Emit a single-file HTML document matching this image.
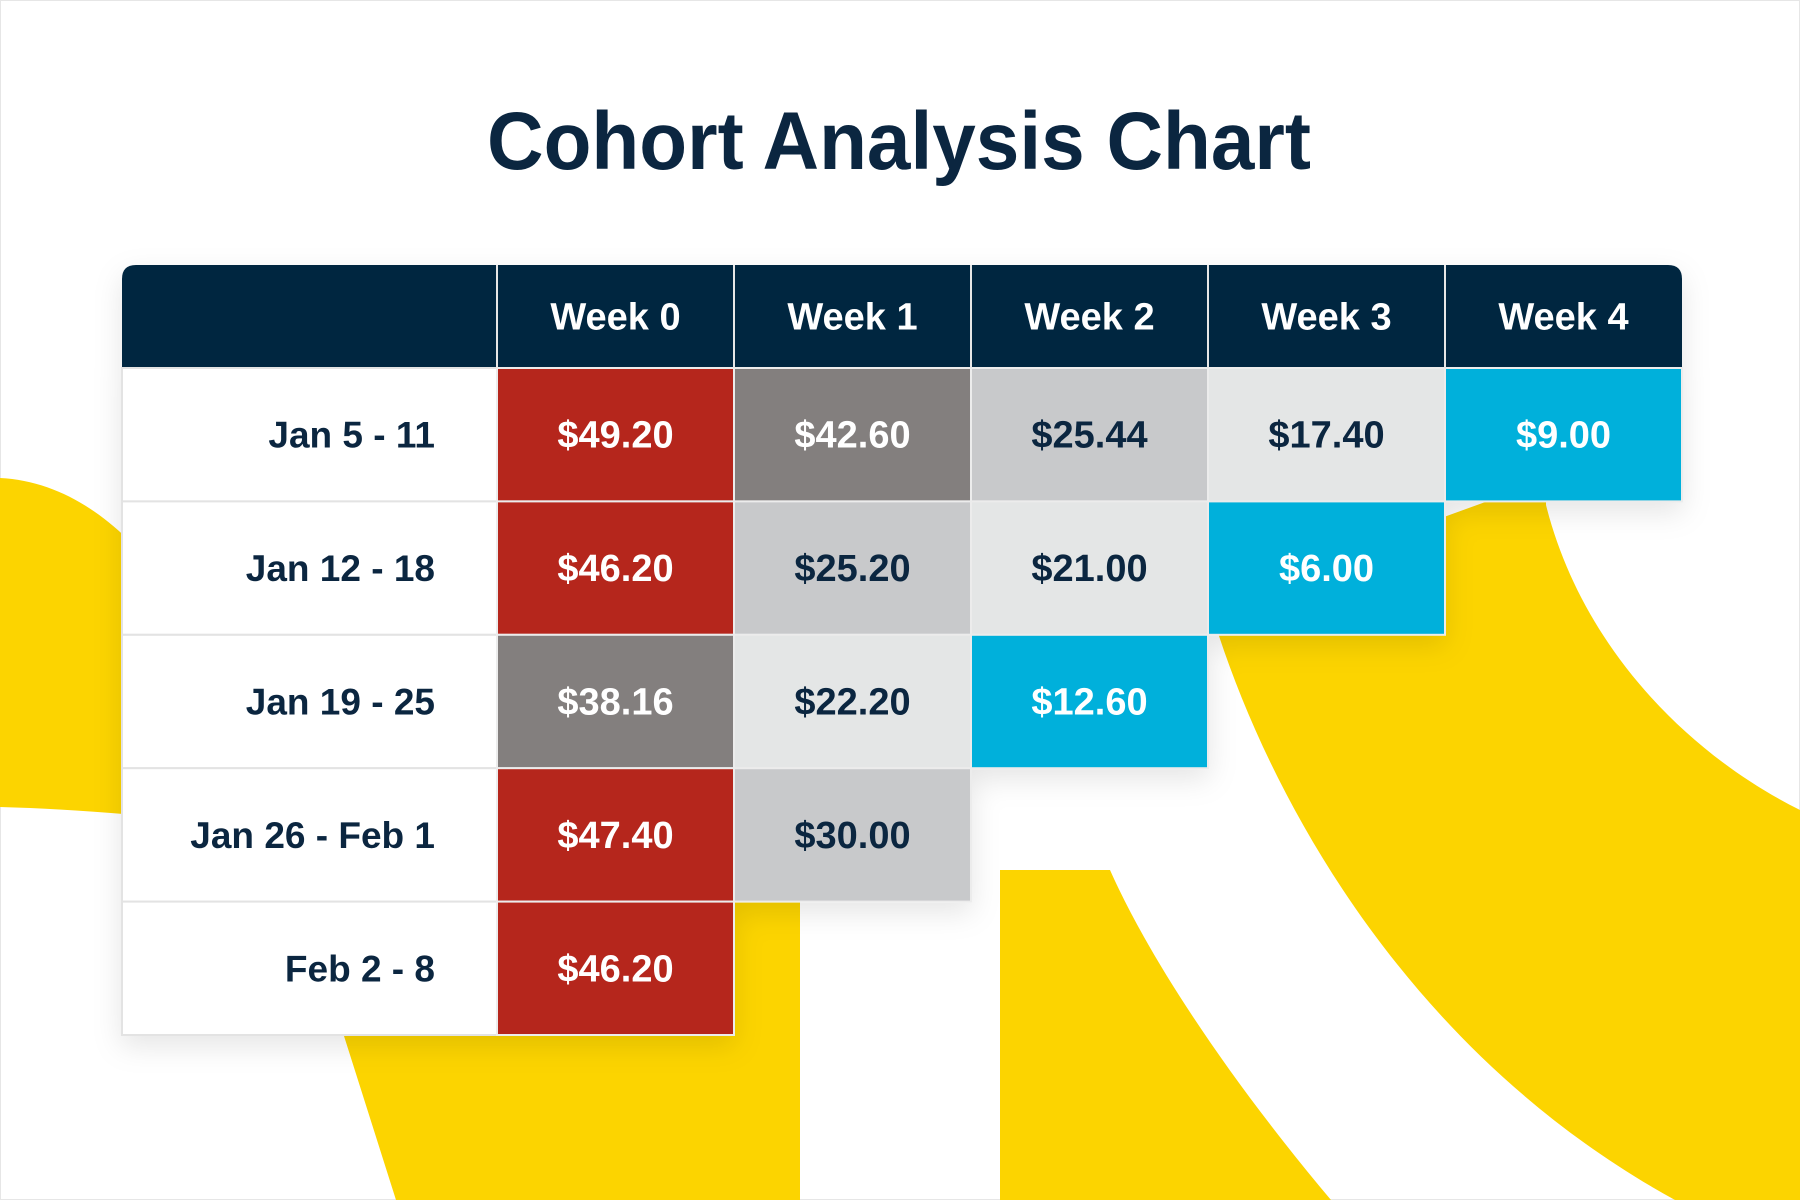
<!DOCTYPE html>
<html><head><meta charset="utf-8"><style>
html,body{margin:0;padding:0;background:#fff;}
svg{display:block;}
text{font-family:"Liberation Sans",sans-serif;font-weight:bold;}
</style></head><body>
<svg id="chart" width="1800" height="1200" viewBox="0 0 1800 1200" xmlns="http://www.w3.org/2000/svg">
<defs>
<filter id="sh" x="-10%" y="-10%" width="120%" height="130%"><feDropShadow dx="0" dy="10" stdDeviation="14" flood-color="#000" flood-opacity="0.10"/></filter>
</defs>
<rect x="0.5" y="0.5" width="1799" height="1199" fill="#fff" stroke="#e6e6e6"/>
<path fill="#fcd400" d="M0,478 C200,488 300,850 344,1036 L396,1200 L800,1200 L800,880 C500,860 200,812 0,807 Z"/>
<path fill="#fcd400" d="M1546,480 L1546,505 C1580,640 1680,750 1800,810 L1800,1200 L1675,1200 C1420,1060 1280,820 1219,636 L1215,600 Z"/>
<path fill="#fcd400" d="M1000,870 L1110,870 C1150,960 1230,1080 1331,1200 L1000,1200 Z"/>
<text x="899" y="169" text-anchor="middle" font-size="82" fill="#0b2640" textLength="824" lengthAdjust="spacingAndGlyphs">Cohort Analysis Chart</text>
<g id="table" filter="url(#sh)"></g>
<g id="labels"></g>
</svg>
<script>
const cohorts = ["Jan 5 - 11","Jan 12 - 18","Jan 19 - 25","Jan 26 - Feb 1","Feb 2 - 8"];
const weeks = ["Week 0","Week 1","Week 2","Week 3","Week 4"];
const row0 = [49.20,42.60,25.44,17.40,9.00];
const row1 = [46.20,25.20,21.00,6.00];
const row2 = [38.16,22.20,12.60];
const row3 = [47.40,30.00];
const row4 = [46.20];
const values = [row0,row1,row2,row3,row4];

const NS="http://www.w3.org/2000/svg";
const tbl=document.getElementById('table'), lab=document.getElementById('labels');
const X0=122, LABW=375, COLW=237, HY=265, HH=103, RH=133.4;
const colX=i=>X0+LABW+i*COLW;
const rowY=j=>HY+HH+j*RH;
function color(v){ if(v>=45) return ['#b5261a','#fff']; if(v>=35) return ['#837f7e','#fff']; if(v>=25) return ['#c8c9cb','#0b2640']; if(v>=15) return ['#e4e6e6','#0b2640']; return ['#00b0db','#fff']; }
function mk(tag,attrs,parent){const e=document.createElementNS(NS,tag);for(const k in attrs)e.setAttribute(k,attrs[k]);parent.appendChild(e);return e;}

// header
const hdr=mk('path',{d:`M${X0},${HY+HH} L${X0},${HY+14} Q${X0},${HY} ${X0+14},${HY} L${colX(5)-14},${HY} Q${colX(5)},${HY} ${colX(5)},${HY+14} L${colX(5)},${HY+HH} Z`,fill:'#03263f'},tbl);


weeks.forEach((w,i)=>{
  const t=mk('text',{x:colX(i)+COLW/2,y:HY+HH/2+13,'text-anchor':'middle','font-size':38,fill:'#fff'},lab);
  t.textContent=w;
  
  
  const l=mk('line',{x1:colX(i),x2:colX(i),y1:HY,y2:HY+HH,stroke:'#e6e6e6','stroke-width':2},lab);
  
  
});
cohorts.forEach((c,j)=>{
  const y=rowY(j);
  const r=mk('rect',{x:X0,y:y,width:LABW,height:RH,fill:'#fff',stroke:'#e3e3e3','stroke-width':2},tbl);
  
  
  const t=mk('text',{x:X0+LABW-62,y:y+RH/2+13,'text-anchor':'end','font-size':37,fill:'#0b2640'},lab);
  t.textContent=c;
  
  
  values[j].forEach((v,i)=>{
    const [bg,fg]=color(v);
    const cell=mk('rect',{x:colX(i),y:y,width:COLW,height:RH,fill:bg,stroke:'#ececec','stroke-width':2},tbl);
    
    
    const vt=mk('text',{x:colX(i)+COLW/2,y:y+RH/2+13,'text-anchor':'middle','font-size':38,fill:fg},lab);
    vt.textContent='$'+v.toFixed(2);
    
    
  });
});
</script>
</body></html>
